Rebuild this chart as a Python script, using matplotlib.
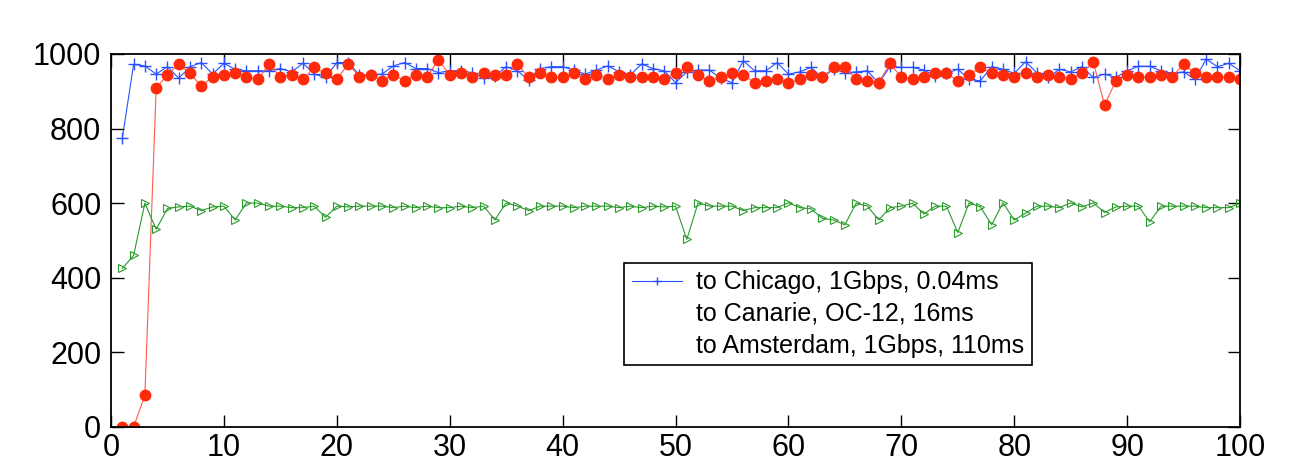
import matplotlib
matplotlib.use("Agg")
import matplotlib.pyplot as plt
from matplotlib.lines import Line2D

plt.rcParams['font.family'] = ['Liberation Sans', 'DejaVu Sans']

x = list(range(1, 101))

# to Chicago, 1Gbps, 0.04ms
chicago = [774, 972, 968, 946, 966, 935, 966, 977, 946, 975,
           959, 955, 955, 955, 961, 952, 975, 946, 937, 977,
           977, 944, 944, 946, 968, 977, 961, 961, 950, 955,
           955, 950, 935, 941, 966, 955, 930, 961, 966, 966,
           957, 946, 957, 968, 952, 944, 973, 961, 955, 923,
           952, 957, 957, 935, 923, 982, 955, 955, 977, 946,
           952, 964, 937, 959, 950, 952, 955, 921, 967, 964,
           964, 957, 941, 948, 959, 932, 928, 966, 959, 948,
           979, 950, 937, 959, 952, 966, 937, 946, 937, 955,
           967, 967, 955, 948, 952, 932, 986, 966, 975, 955]

# to Canarie, OC-12, 16ms
canarie = [0, 0, 85, 908, 944, 973, 948, 914, 939, 944,
           948, 937, 932, 973, 939, 944, 932, 964, 948, 932,
           973, 939, 944, 928, 944, 928, 944, 939, 984, 944,
           948, 937, 948, 944, 944, 973, 937, 948, 937, 937,
           948, 933, 944, 933, 944, 937, 937, 937, 933, 948,
           964, 944, 928, 937, 948, 944, 923, 928, 933, 921,
           933, 944, 937, 964, 964, 933, 928, 923, 975, 937,
           933, 937, 948, 948, 928, 944, 964, 948, 944, 939,
           948, 939, 944, 939, 933, 948, 979, 863, 928, 944,
           939, 939, 944, 939, 973, 948, 939, 939, 939, 933]

# to Amsterdam, 1Gbps, 110ms
amsterdam = [425, 460, 600, 530, 586, 590, 592, 580, 590, 592,
             555, 601, 600, 592, 592, 588, 588, 592, 562, 592,
             590, 592, 592, 592, 588, 592, 588, 592, 588, 588,
             592, 588, 592, 555, 601, 592, 580, 592, 592, 592,
             588, 592, 592, 592, 588, 592, 588, 592, 590, 592,
             503, 601, 592, 592, 592, 580, 588, 588, 588, 601,
             588, 585, 559, 555, 542, 600, 592, 555, 588, 592,
             600, 571, 592, 592, 521, 601, 590, 542, 601, 555,
             573, 592, 592, 588, 601, 590, 601, 575, 590, 592,
             592, 550, 592, 592, 592, 592, 588, 588, 588, 600]

labels = ["to Chicago, 1Gbps, 0.04ms",
          "to Canarie, OC-12, 16ms",
          "to Amsterdam, 1Gbps, 110ms"]

fig = plt.figure(figsize=(13.06, 4.63), dpi=100)
ax = fig.add_axes([0.085, 0.0778, 0.8645, 0.8056])

ax.plot(x, chicago, color='#2850ff', lw=0.8, marker='+', ms=8, mew=1.0)
ax.plot(x, canarie, color='#ff5a4a', lw=0.8, marker='o', ms=7.5,
        mfc='#ff2a0a', mec='#ff2a0a')
ax.plot(x, amsterdam, color='#2a9a2a', lw=0.8, marker='>', ms=6,
        mfc='none', mec='#2a9a2a', mew=0.8)

ax.set_xlim(0, 100)
ax.set_ylim(0, 1000)
ax.set_xticks(range(0, 101, 10))
ax.set_yticks(range(0, 1001, 200))
ax.tick_params(direction='in', length=9, width=1, labelsize=22,
               top=True, right=True)
ax.tick_params(axis='x', pad=4)
ax.tick_params(axis='y', pad=7)
for s in ax.spines.values():
    s.set_linewidth(1.3)

# only the first entry shows its key, as in the original figure
handles = [Line2D([0], [0], color='#2850ff', lw=0.8, marker='+', ms=6),
           Line2D([0], [0], color='none'),
           Line2D([0], [0], color='none')]
leg = fig.legend(handles, labels, loc='upper left',
                 bbox_to_anchor=(624 / 1306, (463 - 263) / 463),
                 fontsize=18, frameon=True, fancybox=False,
                 edgecolor='black', borderaxespad=0, handlelength=2.0,
                 handletextpad=0.6, labelspacing=0.3, borderpad=0.3,
                 framealpha=1)
leg.get_frame().set_linewidth(1.2)

fig.savefig("out.png", dpi=100)
